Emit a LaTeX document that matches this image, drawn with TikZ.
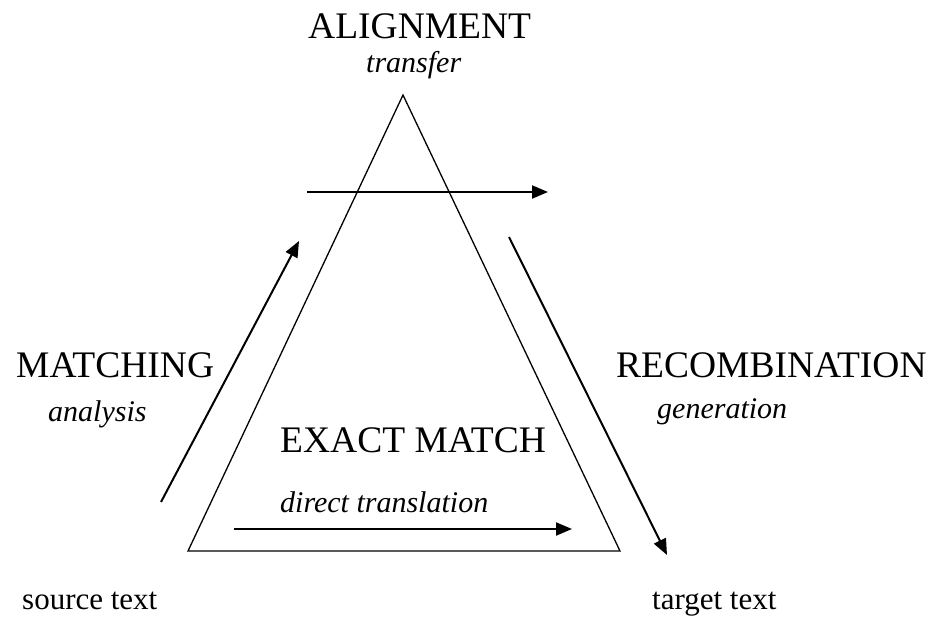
\documentclass[tikz,border=0pt]{standalone}
\usepackage{fontspec}
\setmainfont{Liberation Serif}
\usetikzlibrary{arrows.meta}

\tikzset{
  stage/.style={anchor=base west, inner sep=0pt, font=\fontsize{37.5}{42}\selectfont},
  mode/.style={anchor=base west, inner sep=0pt, font=\fontsize{30}{34}\selectfont\itshape},
  endtext/.style={anchor=base west, inner sep=0pt, font=\fontsize{31}{35}\selectfont},
  frame/.style={line width=1.3pt, line join=miter},
  flow/.style={line width=2pt, -{Triangle[length=16pt,width=13pt]}}
}

\begin{document}
\begin{tikzpicture}[x=1pt,y=-1pt]
  \useasboundingbox (0,0) rectangle (934,616);

  % the translation triangle
  \coordinate (apex) at (403,95);
  \coordinate (bl) at (188,551);
  \coordinate (br) at (620,551);
  \draw[frame] (apex) -- (bl) -- (br) -- cycle;

  % arrow end points
  \coordinate (up0) at (161,502);
  \coordinate (up1) at (299,241);
  \coordinate (tr0) at (307,192);
  \coordinate (tr1) at (548,192);
  \coordinate (dn0) at (509,237);
  \coordinate (dn1) at (667,555);
  \coordinate (dt0) at (234,529);
  \coordinate (dt1) at (572,529);

  \draw[flow] (up0) -- (up1);
  \draw[flow] (tr0) -- (tr1);
  \draw[flow] (dn0) -- (dn1);
  \draw[flow] (dt0) -- (dt1);

  % labels
  \node[stage] (align) at (308,38) {ALIGNMENT};
  \node[mode]  (transf) at (366,72) {transfer};
  \node[stage] (match) at (16,377) {MATCHING};
  \node[mode]  (anal) at (48,421) {analysis};
  \node[stage] (recomb) at (616,377) {RECOMBINATION};
  \node[mode]  (gen) at (657,418) {generation};
  \node[stage] (exact) at (280,452) {EXACT MATCH};
  \node[mode]  (direct) at (280,512) {direct translation};
  \node[endtext] (src) at (22,609) {source text};
  \node[endtext] (tgt) at (652,609) {target text};
\end{tikzpicture}
\end{document}
